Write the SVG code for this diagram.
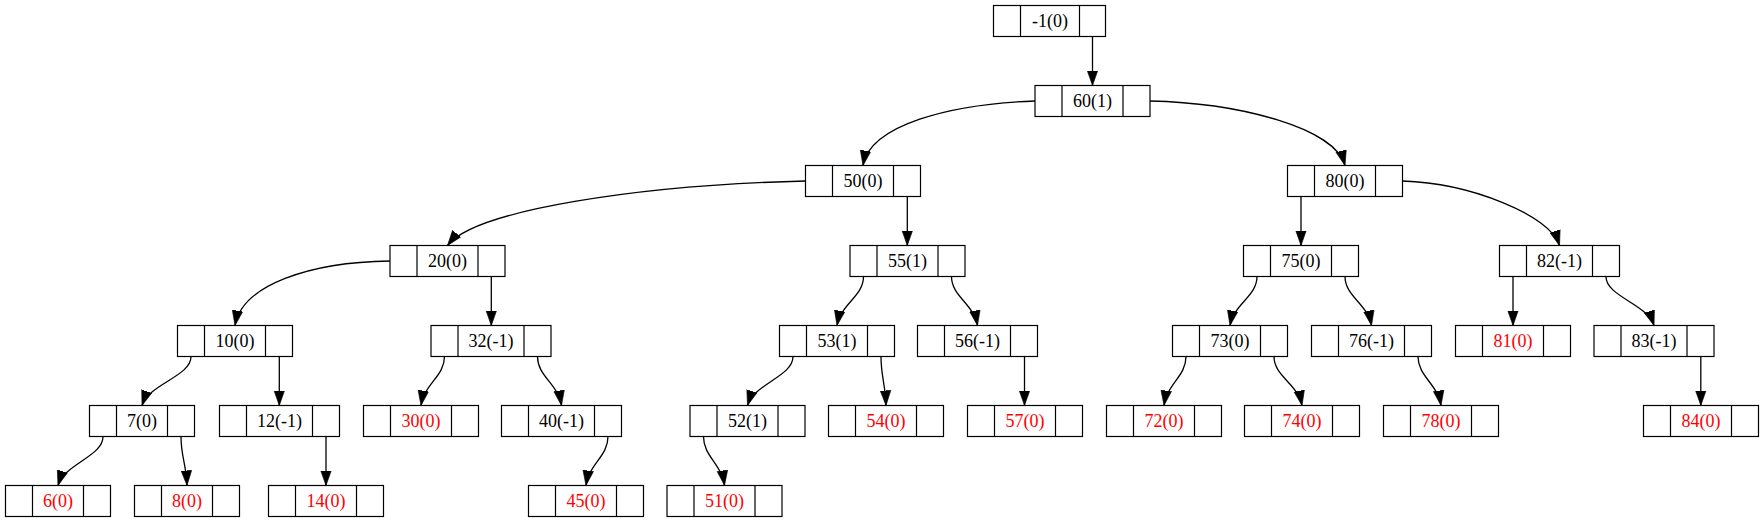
<svg xmlns="http://www.w3.org/2000/svg" width="1763" height="523" viewBox="0 0 1763 523">
<defs>
<style>
.node rect{fill:#fff;stroke:#000;stroke-width:1.2}
.node path{fill:none;stroke:#000;stroke-width:1.2}
.node text{font-size:18px;text-anchor:middle;fill:#000}
.node.leaf text{fill:#f00}
#edges path{fill:none;stroke:#000;stroke-width:1.3;marker-end:url(#arr)}
</style>
<marker id="arr" markerUnits="userSpaceOnUse" markerWidth="16" markerHeight="12" refX="15" refY="6" orient="auto">
<path d="M0,0.7 L15,6 L0,11.3 z" fill="#000" stroke="#000" stroke-width="0.6"/>
</marker>
</defs>
<rect width="1763" height="523" fill="#fff"/>
<g id="edges">
<path d="M1092.5,36.5 L1092.5,85.5"/>
<path d="M907.3,196.5 L907.3,245.5"/>
<path d="M1301,196.5 L1301,245.5"/>
<path d="M491.3,276.5 L491.3,325.5"/>
<path d="M1513,276.5 L1513,325.5"/>
<path d="M279.3,356.5 L279.3,405.5"/>
<path d="M1024.5,356.5 L1024.5,405.5"/>
<path d="M1700.8,356.5 L1700.8,405.5"/>
<path d="M326,436.5 L326,485.5"/>
<path d="M1035,101 C950,104 870,125 863,165.5"/>
<path d="M1150,101 C1240,103 1335,128 1345,165.5"/>
<path d="M805.5,181 C640,185 475,210 447.5,245.5"/>
<path d="M1402.5,181 C1470,183 1550,215 1559.5,245.5"/>
<path d="M390,261 C310,262 242,285 235,325.5"/>
<path d="M863.5,276.5 C863.5,296.5 841,303.5 837,325.5"/>
<path d="M951.5,276.5 C951.5,296.5 973.6,303.5 977.5,325.5"/>
<path d="M1257,276.5 C1257,296.5 1234,303.5 1230,325.5"/>
<path d="M1345,276.5 C1345,296.5 1367.5,303.5 1371.5,325.5"/>
<path d="M1606,276.5 C1606,296.5 1646.8,303.5 1654,325.5"/>
<path d="M191,356.5 C191,376.5 149.4,383.5 142,405.5"/>
<path d="M444.5,356.5 C444.5,376.5 424.5,383.5 421,405.5"/>
<path d="M537.5,356.5 C537.5,376.5 557.9,383.5 561.5,405.5"/>
<path d="M793,356.5 C793,376.5 754.3,383.5 747.5,405.5"/>
<path d="M881,356.5 C881,376.5 885.3,383.5 886,405.5"/>
<path d="M1186,356.5 C1186,376.5 1167.3,383.5 1164,405.5"/>
<path d="M1274,356.5 C1274,376.5 1297.8,383.5 1302,405.5"/>
<path d="M1418,356.5 C1418,376.5 1437.5,383.5 1441,405.5"/>
<path d="M103,436.5 C103,456.5 64.8,463.5 58,485.5"/>
<path d="M181,436.5 C181,456.5 186.1,463.5 187,485.5"/>
<path d="M608,436.5 C608,456.5 589.3,463.5 586,485.5"/>
<path d="M703.5,436.5 C703.5,456.5 721.4,463.5 724.5,485.5"/>
</g>
<g id="nodes" font-family="'Liberation Serif', 'DejaVu Serif', serif">
<g id="n_m1" class="node"><rect x="993.5" y="5.5" width="112" height="31"/><path d="M1020.5,5.5v31M1079.5,5.5v31"/><text x="1050" y="27">-1(0)</text></g>
<g id="n60" class="node"><rect x="1035" y="85.5" width="115" height="31"/><path d="M1062,85.5v31M1123,85.5v31"/><text x="1092.5" y="107">60(1)</text></g>
<g id="n50" class="node"><rect x="805.5" y="165.5" width="115" height="31"/><path d="M832.5,165.5v31M893.5,165.5v31"/><text x="863" y="187">50(0)</text></g>
<g id="n80" class="node"><rect x="1287.5" y="165.5" width="115" height="31"/><path d="M1314.5,165.5v31M1375.5,165.5v31"/><text x="1345" y="187">80(0)</text></g>
<g id="n20" class="node"><rect x="390" y="245.5" width="115" height="31"/><path d="M417,245.5v31M478,245.5v31"/><text x="447.5" y="267">20(0)</text></g>
<g id="n55" class="node"><rect x="850" y="245.5" width="115" height="31"/><path d="M877,245.5v31M938,245.5v31"/><text x="907.5" y="267">55(1)</text></g>
<g id="n75" class="node"><rect x="1243.5" y="245.5" width="115" height="31"/><path d="M1270.5,245.5v31M1331.5,245.5v31"/><text x="1301" y="267">75(0)</text></g>
<g id="n82" class="node"><rect x="1499.5" y="245.5" width="120" height="31"/><path d="M1526.5,245.5v31M1592.5,245.5v31"/><text x="1559.5" y="267">82(-1)</text></g>
<g id="n10" class="node"><rect x="177.5" y="325.5" width="115" height="31"/><path d="M204.5,325.5v31M265.5,325.5v31"/><text x="235" y="347">10(0)</text></g>
<g id="n32" class="node"><rect x="431" y="325.5" width="120" height="31"/><path d="M458,325.5v31M524,325.5v31"/><text x="491" y="347">32(-1)</text></g>
<g id="n53" class="node"><rect x="779.5" y="325.5" width="115" height="31"/><path d="M806.5,325.5v31M867.5,325.5v31"/><text x="837" y="347">53(1)</text></g>
<g id="n56" class="node"><rect x="917.5" y="325.5" width="120" height="31"/><path d="M944.5,325.5v31M1010.5,325.5v31"/><text x="977.5" y="347">56(-1)</text></g>
<g id="n73" class="node"><rect x="1172.5" y="325.5" width="115" height="31"/><path d="M1199.5,325.5v31M1260.5,325.5v31"/><text x="1230" y="347">73(0)</text></g>
<g id="n76" class="node"><rect x="1311.5" y="325.5" width="120" height="31"/><path d="M1338.5,325.5v31M1404.5,325.5v31"/><text x="1371.5" y="347">76(-1)</text></g>
<g id="n81" class="node leaf"><rect x="1455.5" y="325.5" width="115" height="31"/><path d="M1482.5,325.5v31M1543.5,325.5v31"/><text x="1513" y="347">81(0)</text></g>
<g id="n83" class="node"><rect x="1594" y="325.5" width="120" height="31"/><path d="M1621,325.5v31M1687,325.5v31"/><text x="1654" y="347">83(-1)</text></g>
<g id="n7" class="node"><rect x="89.5" y="405.5" width="105" height="31"/><path d="M116.5,405.5v31M167.5,405.5v31"/><text x="142" y="427">7(0)</text></g>
<g id="n12" class="node"><rect x="219.5" y="405.5" width="120" height="31"/><path d="M246.5,405.5v31M312.5,405.5v31"/><text x="279.5" y="427">12(-1)</text></g>
<g id="n30" class="node leaf"><rect x="363.5" y="405.5" width="115" height="31"/><path d="M390.5,405.5v31M451.5,405.5v31"/><text x="421" y="427">30(0)</text></g>
<g id="n40" class="node"><rect x="501.5" y="405.5" width="120" height="31"/><path d="M528.5,405.5v31M594.5,405.5v31"/><text x="561.5" y="427">40(-1)</text></g>
<g id="n52" class="node"><rect x="690" y="405.5" width="115" height="31"/><path d="M717,405.5v31M778,405.5v31"/><text x="747.5" y="427">52(1)</text></g>
<g id="n54" class="node leaf"><rect x="828.5" y="405.5" width="115" height="31"/><path d="M855.5,405.5v31M916.5,405.5v31"/><text x="886" y="427">54(0)</text></g>
<g id="n57" class="node leaf"><rect x="967.5" y="405.5" width="115" height="31"/><path d="M994.5,405.5v31M1055.5,405.5v31"/><text x="1025" y="427">57(0)</text></g>
<g id="n72" class="node leaf"><rect x="1106.5" y="405.5" width="115" height="31"/><path d="M1133.5,405.5v31M1194.5,405.5v31"/><text x="1164" y="427">72(0)</text></g>
<g id="n74" class="node leaf"><rect x="1244.5" y="405.5" width="115" height="31"/><path d="M1271.5,405.5v31M1332.5,405.5v31"/><text x="1302" y="427">74(0)</text></g>
<g id="n78" class="node leaf"><rect x="1383.5" y="405.5" width="115" height="31"/><path d="M1410.5,405.5v31M1471.5,405.5v31"/><text x="1441" y="427">78(0)</text></g>
<g id="n84" class="node leaf"><rect x="1643.5" y="405.5" width="115" height="31"/><path d="M1670.5,405.5v31M1731.5,405.5v31"/><text x="1701" y="427">84(0)</text></g>
<g id="n6" class="node leaf"><rect x="5.5" y="485.5" width="105" height="31"/><path d="M32.5,485.5v31M83.5,485.5v31"/><text x="58" y="507">6(0)</text></g>
<g id="n8" class="node leaf"><rect x="134.5" y="485.5" width="105" height="31"/><path d="M161.5,485.5v31M212.5,485.5v31"/><text x="187" y="507">8(0)</text></g>
<g id="n14" class="node leaf"><rect x="268.5" y="485.5" width="115" height="31"/><path d="M295.5,485.5v31M356.5,485.5v31"/><text x="326" y="507">14(0)</text></g>
<g id="n45" class="node leaf"><rect x="528.5" y="485.5" width="115" height="31"/><path d="M555.5,485.5v31M616.5,485.5v31"/><text x="586" y="507">45(0)</text></g>
<g id="n51" class="node leaf"><rect x="667" y="485.5" width="115" height="31"/><path d="M694,485.5v31M755,485.5v31"/><text x="724.5" y="507">51(0)</text></g>
</g>
</svg>
